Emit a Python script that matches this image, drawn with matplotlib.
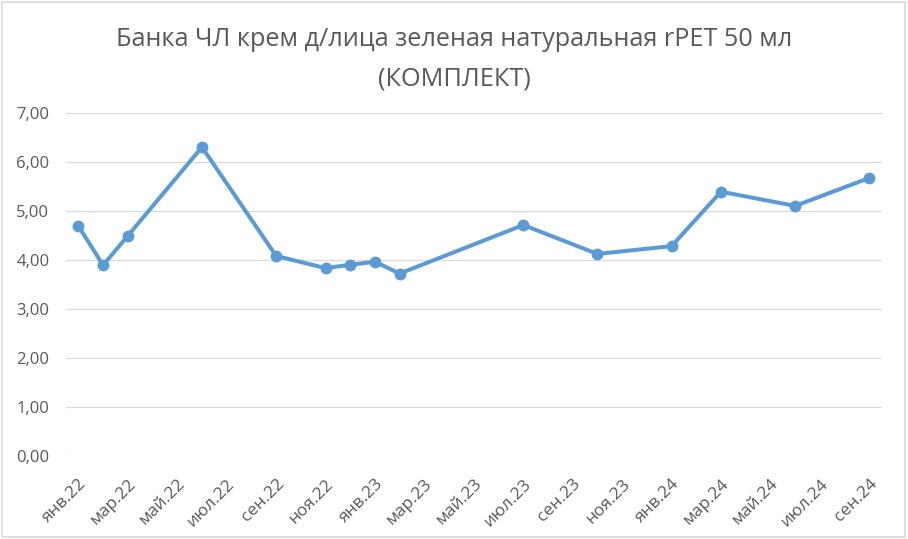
import matplotlib.pyplot as plt
from matplotlib.patches import Rectangle

# month index from янв.22 (0) and price
months = [0, 1, 2, 5, 8, 10, 11, 12, 13, 18, 21, 24, 26, 29, 32]
prices = [4.70, 3.90, 4.50, 6.31, 4.09, 3.84, 3.91, 3.97, 3.73, 4.72, 4.13, 4.29, 5.40, 5.11, 5.68]

tick_pos = list(range(0, 33, 2))
tick_labels = ['янв.22', 'мар.22', 'май.22', 'июл.22', 'сен.22', 'ноя.22',
               'янв.23', 'мар.23', 'май.23', 'июл.23', 'сен.23', 'ноя.23',
               'янв.24', 'мар.24', 'май.24', 'июл.24', 'сен.24']

title_lines = ['Банка ЧЛ крем д/лица зеленая натуральная rPET 50 мл', '(КОМПЛЕКТ)']

plt.rcParams['font.family'] = ['Open Sans', 'DejaVu Sans']
grey = '#595959'

fig = plt.figure(figsize=(9.08, 5.39), dpi=100)
ax = fig.add_axes([0.0727, 0.1534, 0.8983, 0.6364])

ax.plot(months, prices, color='#5B9BD5', lw=2.9, marker='o', markersize=7.5,
        solid_joinstyle='round')

ax.set_xlim(-0.5, 32.5)
ax.set_ylim(0, 7)
ax.set_yticks(range(0, 8))
ax.set_yticklabels([f'{v:.2f}'.replace('.', ',') for v in range(0, 8)])
ax.set_xticks(tick_pos)
ax.set_xticklabels(tick_labels, rotation=45, ha='right', rotation_mode='anchor')

ax.grid(axis='y', color='#D9D9D9', lw=0.9)
ax.set_axisbelow(True)
for s in ax.spines.values():
    s.set_visible(False)
ax.tick_params(axis='both', length=0, colors=grey)
ax.tick_params(axis='y', pad=12, labelsize=12)
ax.tick_params(axis='x', pad=14, labelsize=12.5)

fig.text(0.5, 0.9147, title_lines[0], ha='center', va='baseline', fontsize=18.2, color=grey)
fig.text(0.5, 0.8423, title_lines[1], ha='center', va='baseline', fontsize=18.2, color=grey)

fig.patches.append(Rectangle((0.002, 0.003), 0.995, 0.994, transform=fig.transFigure,
                             fill=False, edgecolor='#D9D9D9', lw=1.2))

fig.savefig('out.png', dpi=100)
